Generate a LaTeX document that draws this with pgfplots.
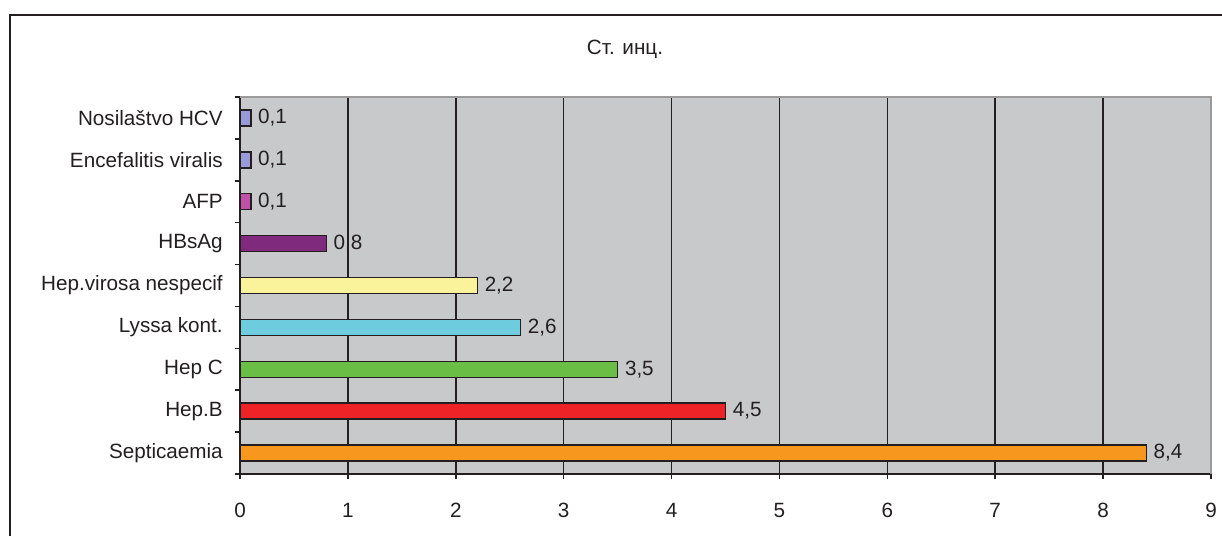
\documentclass[border=0pt]{standalone}
\usepackage{fontspec}
\setmainfont{Liberation Sans}
\usepackage{pgfplots}
\pgfplotsset{compat=1.18}
\definecolor{plotbg}{HTML}{C8C9CB}
\definecolor{framec}{HTML}{231F20}
\definecolor{borderg}{HTML}{9B9B9B}
\definecolor{cLav}{HTML}{9A9AD8}
\definecolor{cAFP}{HTML}{C050A8}
\definecolor{cHBs}{HTML}{802A7E}
\definecolor{cYel}{HTML}{FBF39B}
\definecolor{cCyan}{HTML}{6DCCDD}
\definecolor{cGreen}{HTML}{6ABD45}
\definecolor{cRed}{HTML}{EE2328}
\definecolor{cOrange}{HTML}{F7971E}
\begin{document}
\begin{tikzpicture}
\fontsize{15.5}{18}\selectfont
\color{framec}
\path[use as bounding box] (0,0) rectangle (916.5pt,402pt);
\draw[line width=1.5pt, framec] (7.5pt,0) -- (7.5pt,390.75pt) -- (916.5pt,390.75pt);
\node[text=framec] at (468.75pt,365pt) {Ст. инц.};
\begin{axis}[
  at={(180pt,46.5pt)}, anchor=south west,
  scale only axis, width=728.25pt, height=282.75pt,
  xmin=0, xmax=9, ymin=-0.5, ymax=8.5,
  axis background/.style={fill=plotbg},
  axis x line*=bottom, axis y line*=left,
  axis line style={-, framec, line width=1.1pt},
  tick align=outside, major tick length=3.75pt,
  tick style={framec, line width=1.1pt},
  xtick={0,...,9},
  xmajorgrids, grid style={framec, line width=1.1pt},
  ytick={-0.5,0.5,...,8.5},
  yticklabels={Septicaemia,Hep.B,Hep C,Lyssa kont.,Hep.virosa nespecif,HBsAg,AFP,Encefalitis viralis,Nosilaštvo HCV,{}},
  yticklabel style={anchor=east, yshift=15.71pt, inner sep=0pt, xshift=-9pt},
  xticklabel style={yshift=-12.75pt},
  every tick label/.append style={font=\fontsize{15.5}{18}\selectfont, text=framec},
  /pgf/number format/assume math mode=true,
  mybar/.style={xbar, bar width=12pt, bar shift=0pt, draw=framec, line width=1.1pt,
    point meta=x, nodes near coords={\pgfmathprintnumber[use comma,fixed,precision=1,fixed zerofill]{\pgfplotspointmeta}},
    every node near coord/.append style={anchor=west, inner sep=0pt, xshift=5pt, text=framec, font=\fontsize{15.5}{18}\selectfont}},
  after end axis/.code={\draw[borderg, line width=1.5pt] (rel axis cs:0,1) -- (rel axis cs:1,1) -- (rel axis cs:1,0);},
]
\addplot[mybar, fill=cOrange] coordinates {(8.4,0)};
\addplot[mybar, fill=cRed] coordinates {(4.5,1)};
\addplot[mybar, fill=cGreen] coordinates {(3.5,2)};
\addplot[mybar, fill=cCyan] coordinates {(2.6,3)};
\addplot[mybar, fill=cYel] coordinates {(2.2,4)};
\addplot[mybar, fill=cHBs] coordinates {(0.8,5)};
\addplot[mybar, fill=cAFP] coordinates {(0.1,6)};
\addplot[mybar, fill=cLav] coordinates {(0.1,7)};
\addplot[mybar, fill=cLav] coordinates {(0.1,8)};
\end{axis}
\end{tikzpicture}
\end{document}
